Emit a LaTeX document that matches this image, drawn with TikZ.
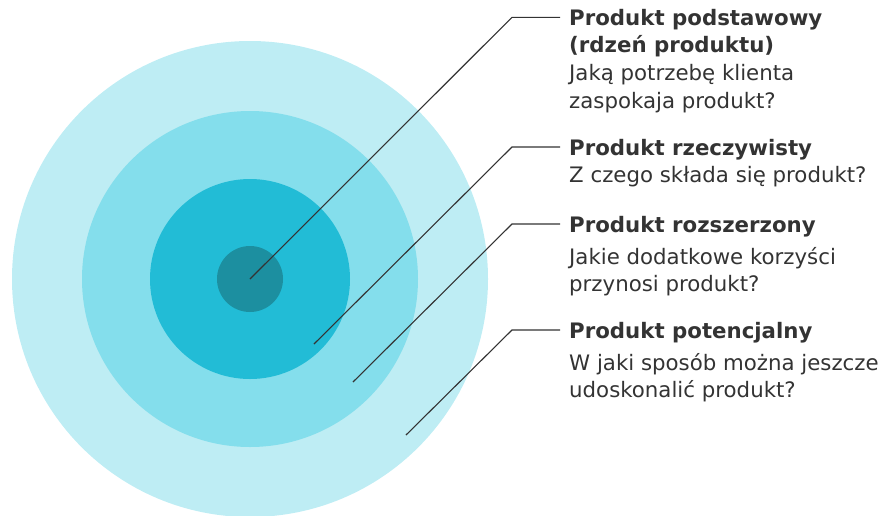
\documentclass[tikz,border=0pt]{standalone}
\usepackage{fontspec}
\setmainfont{DejaVu Sans}
\usetikzlibrary{positioning,calc}
\definecolor{Outer}{HTML}{BEEDF4}
\definecolor{Mid}{HTML}{84DEEC}
\definecolor{Inner}{HTML}{22BCD6}
\definecolor{Core}{HTML}{1C8FA0}
\definecolor{Ink}{HTML}{333333}
\tikzset{
  ring/.style={circle,inner sep=0pt,draw=none},
  pointer/.style={draw=Ink,line width=1.1pt},
  caption/.style={anchor=north west,inner sep=0pt,align=left,text=Ink,
    font=\fontsize{21.3}{27.7}\selectfont}
}

\begin{document}
\begin{tikzpicture}[x=1pt,y=-1pt]
    \useasboundingbox (0,0) rectangle (881,515);
    \node[ring,fill=Outer,minimum size=476pt] (potential) at (250,279) {};
    \node[ring,fill=Mid,minimum size=336pt] (extended) at (250,279) {};
    \node[ring,fill=Inner,minimum size=200pt] (actual) at (250,279) {};
    \node[ring,fill=Core,minimum size=66pt] (core) at (250,279) {};

    % punkty poczatkowe linii
    \coordinate (s2) at (314,344);
    \coordinate (s3) at (353,382);
    \coordinate (s4) at (406,435);
    \coordinate (k1) at (512,17.3);  \coordinate (e1) at (560,17.3);
    \coordinate (k2) at (512,147);   \coordinate (e2) at (560,147);
    \coordinate (k3) at (512,224);   \coordinate (e3) at (560,224);
    \coordinate (k4) at (512,330);   \coordinate (e4) at (560,330);
    \draw[pointer] (core.center)--(k1)--(e1);
    \draw[pointer] (s2)--(k2)--(e2);
    \draw[pointer] (s3)--(k3)--(e3);
    \draw[pointer] (s4)--(k4)--(e4);

    \node[caption] (t1) at (569,5.6) {\strut\textbf{Produkt podstawowy}\\\textbf{(rdzeń produktu)}\\Jaką potrzebę klienta\\zaspokaja produkt?};
    \node[caption] (t2) at (569,135.6) {\strut\textbf{Produkt rzeczywisty}\\Z czego składa się produkt?};
    \node[caption] (t3) at (569,213) {\strut\textbf{Produkt rozszerzony}\\[4pt]Jakie dodatkowe korzyści\\przynosi produkt?};
    \node[caption] (t4) at (569,319) {\strut\textbf{Produkt potencjalny}\\[4pt]W jaki sposób można jeszcze\\udoskonalić produkt?};
  \end{tikzpicture}
\end{document}
